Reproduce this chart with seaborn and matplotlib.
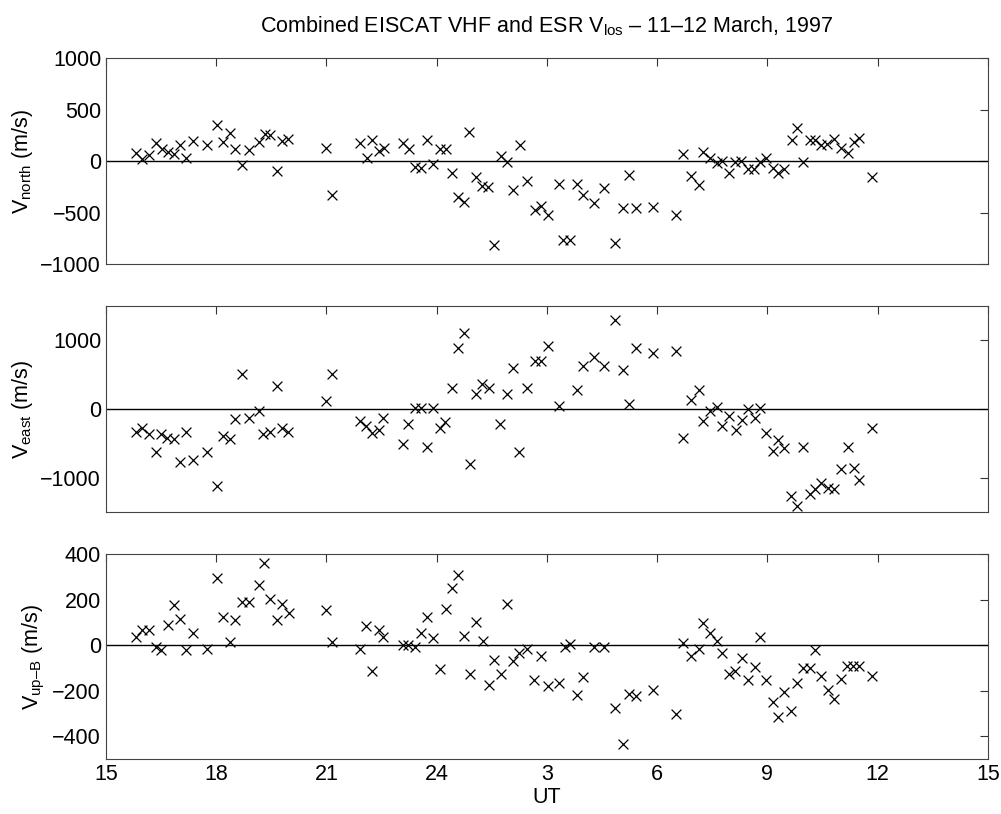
import numpy as np
import seaborn as sns
import matplotlib
matplotlib.use('Agg')
import matplotlib.pyplot as plt

# UT hours (values after midnight run on past 24)
t_north = [15.82, 15.99, 16.17, 16.35, 16.52, 16.69, 16.84, 17.02, 17.17, 17.36, 17.74, 18.01, 18.19, 18.38,
           18.51, 18.70, 18.90, 19.17, 19.32, 19.47, 19.66, 19.78, 19.95, 20.98, 21.16, 21.92, 22.09, 22.23,
           22.42, 22.56, 23.08, 23.24, 23.41, 23.58, 23.74, 23.90, 24.08, 24.25, 24.41, 24.58, 24.74, 24.89,
           25.07, 25.23, 25.40, 25.57, 25.74, 25.91, 26.07, 26.26, 26.45, 26.68, 26.83, 27.02, 27.32, 27.45,
           27.64, 27.82, 27.97, 28.29, 28.54, 28.85, 29.08, 29.22, 29.43, 29.89, 30.50, 30.71, 30.93, 31.14,
           31.26, 31.45, 31.63, 31.76, 31.95, 32.12, 32.29, 32.47, 32.63, 32.81, 32.96, 33.15, 33.30, 33.46,
           33.67, 33.80, 33.98, 34.15, 34.29, 34.46, 34.62, 34.82, 35.00, 35.18, 35.35, 35.50, 35.85]
v_north = [78, 26, 58, 179, 123, 91, 68, 156, 36, 198, 156, 354, 185, 276,
           117, -39, 110, 185, 263, 257, -97, 201, 218, 127, -331, 175, 32, 205,
           101, 127, 179, 117, -55, -65, 205, -23, 117, 123, -110, -351, -399, 289,
           -153, -237, -253, -812, 55, -10, -282, 159, -195, -468, -432, -523, -224, -766,
           -760, -218, -328, -403, -257, -789, -451, -133, -458, -442, -523, 68, -140, -231,
           88, 36, -19, 3, -110, -3, 3, -75, -75, -10, 36, -62, -110, -75,
           208, 321, -3, 211, 208, 159, 172, 218, 127, 84, 185, 224, -156]

t_east = [15.82, 15.97, 16.17, 16.35, 16.49, 16.65, 16.84, 17.01, 17.18, 17.36, 17.74, 18.01, 18.19, 18.37,
          18.51, 18.70, 18.90, 19.17, 19.28, 19.47, 19.65, 19.78, 19.95, 20.98, 21.15, 21.92, 22.07, 22.24,
          22.42, 22.55, 23.08, 23.23, 23.41, 23.58, 23.74, 23.91, 24.08, 24.23, 24.41, 24.58, 24.74, 24.91,
          25.07, 25.23, 25.41, 25.73, 25.91, 26.07, 26.25, 26.45, 26.68, 26.83, 27.02, 27.32, 27.82, 27.97,
          28.29, 28.54, 28.85, 29.08, 29.24, 29.43, 29.89, 30.50, 30.71, 30.93, 31.14, 31.26, 31.45, 31.63,
          31.76, 31.95, 32.14, 32.30, 32.46, 32.65, 32.81, 32.97, 33.15, 33.30, 33.46, 33.65, 33.80, 33.96,
          34.15, 34.30, 34.47, 34.64, 34.82, 35.00, 35.18, 35.35, 35.50, 35.85]
v_east = [-329, -281, -358, -620, -358, -416, -436, -775, -339, -741, -630, -1114, -387, -436,
          -145, 509, -136, -29, -358, -329, 339, -281, -339, 116, 509, -170, -242, -354,
          -310, -126, -509, -213, 10, 19, -557, 10, -281, -184, 310, 881, 1109, -804,
          223, 363, 310, -223, 223, 591, -620, 310, 697, 697, 920, 48, 271, 620,
          760, 630, 1293, 562, 77, 881, 809, 843, -426, 136, 271, -170, -29, 34,
          -242, -97, -310, -155, 0, -136, 10, -349, -610, -446, -562, -1259, -1414, -552,
          -1240, -1162, -1075, -1143, -1162, -872, -547, -852, -1027, -271]

t_up = [15.82, 15.97, 16.17, 16.35, 16.51, 16.68, 16.84, 17.01, 17.18, 17.36, 17.74, 18.01, 18.19, 18.37,
        18.51, 18.70, 18.90, 19.17, 19.30, 19.47, 19.65, 19.78, 19.97, 20.98, 21.15, 21.92, 22.07, 22.24,
        22.42, 22.55, 23.08, 23.23, 23.41, 23.58, 23.74, 23.91, 24.08, 24.25, 24.41, 24.58, 24.74, 24.91,
        25.07, 25.25, 25.41, 25.57, 25.74, 25.91, 26.07, 26.25, 26.45, 26.66, 26.84, 27.02, 27.32, 27.48,
        27.64, 27.82, 27.97, 28.29, 28.54, 28.85, 29.08, 29.23, 29.43, 29.89, 30.50, 30.71, 30.93, 31.14,
        31.26, 31.45, 31.63, 31.76, 31.95, 32.12, 32.30, 32.46, 32.65, 32.81, 32.97, 33.15, 33.30, 33.46,
        33.65, 33.80, 33.96, 34.15, 34.30, 34.47, 34.64, 34.82, 35.00, 35.17, 35.33, 35.50, 35.85]
v_up = [38, 67, 67, -6, -20, 87, 176, 116, -20, 52, -17, 295, 122, 16,
        111, 188, 188, 263, 361, 201, 111, 180, 143, 154, 16, -17, 84, -115,
        67, 35, 1, 1, -6, 55, 122, 32, -103, 157, 249, 307, 41, -125,
        100, 20, -176, -64, -125, 180, -71, -32, -17, -151, -49, -180, -166, -6,
        6, -217, -140, -9, -9, -275, -435, -212, -221, -195, -301, 9, -47, -17,
        96, 55, 20, -35, -125, -111, -58, -151, -96, 38, -154, -250, -316, -207,
        -289, -166, -100, -100, -23, -134, -198, -236, -148, -90, -93, -90, -137]

xticks = [15, 18, 21, 24, 27, 30, 33, 36, 39]
xticklabels = ['15', '18', '21', '24', '3', '6', '9', '12', '15']

sns.set_style('white')
plt.rcParams['font.family'] = ['Liberation Sans', 'DejaVu Sans']
plt.rcParams['mathtext.fontset'] = 'custom'
plt.rcParams['mathtext.rm'] = 'Liberation Sans'
plt.rcParams['mathtext.default'] = 'regular'
plt.rcParams['text.color'] = 'black'
plt.rcParams['axes.labelcolor'] = 'black'

fig = plt.figure(figsize=(10.01, 8.14), dpi=100)
panels = [
    (t_north, v_north, [0.1059, 0.6753, 0.881, 0.253], (-1000, 1000), [-1000, -500, 0, 500, 1000], 'V$_{north}$ (m/s)'),
    (t_east, v_east, [0.1059, 0.3706, 0.881, 0.2538], (-1500, 1500), [-1000, 0, 1000], 'V$_{east}$ (m/s)'),
    (t_up, v_up, [0.1059, 0.0672, 0.881, 0.2522], (-500, 400), [-400, -200, 0, 200, 400], 'V$_{up\u2013B}$ (m/s)'),
]
axes = []
for t, v, pos, ylim, yt, lab in panels:
    ax = fig.add_axes(pos)
    ax.axhline(0, color='k', lw=1, zorder=1)
    sns.scatterplot(x=t, y=v, ax=ax, marker='x', color='k', s=50, linewidth=0.9, zorder=2)
    ax.set_xlim(15, 39)
    ax.set_ylim(*ylim)
    ax.set_yticks(yt)
    ax.set_yticklabels([str(y).replace('-', '\u2212') for y in yt])
    ax.set_xticks(xticks)
    ax.set_ylabel(lab, fontsize=15.5, labelpad=4, color='k')
    ax.tick_params(direction='in', length=6, width=0.8, top=True, right=True, labelsize=15.5, colors='#333333', labelcolor='k')
    for s in ax.spines.values():
        s.set_color('#444444')
        s.set_linewidth(0.8)
    axes.append(ax)

for ax in axes[:2]:
    ax.set_xticklabels([])
axes[2].set_xticklabels(xticklabels)
axes[2].set_xlabel('UT', fontsize=15.5, labelpad=1, color='k')
axes[0].set_title('Combined EISCAT VHF and ESR V$_{los}$ \u2013 11\u201312 March, 1997', fontsize=15.5, pad=19, color='k')

fig.savefig('out.png', dpi=100)
